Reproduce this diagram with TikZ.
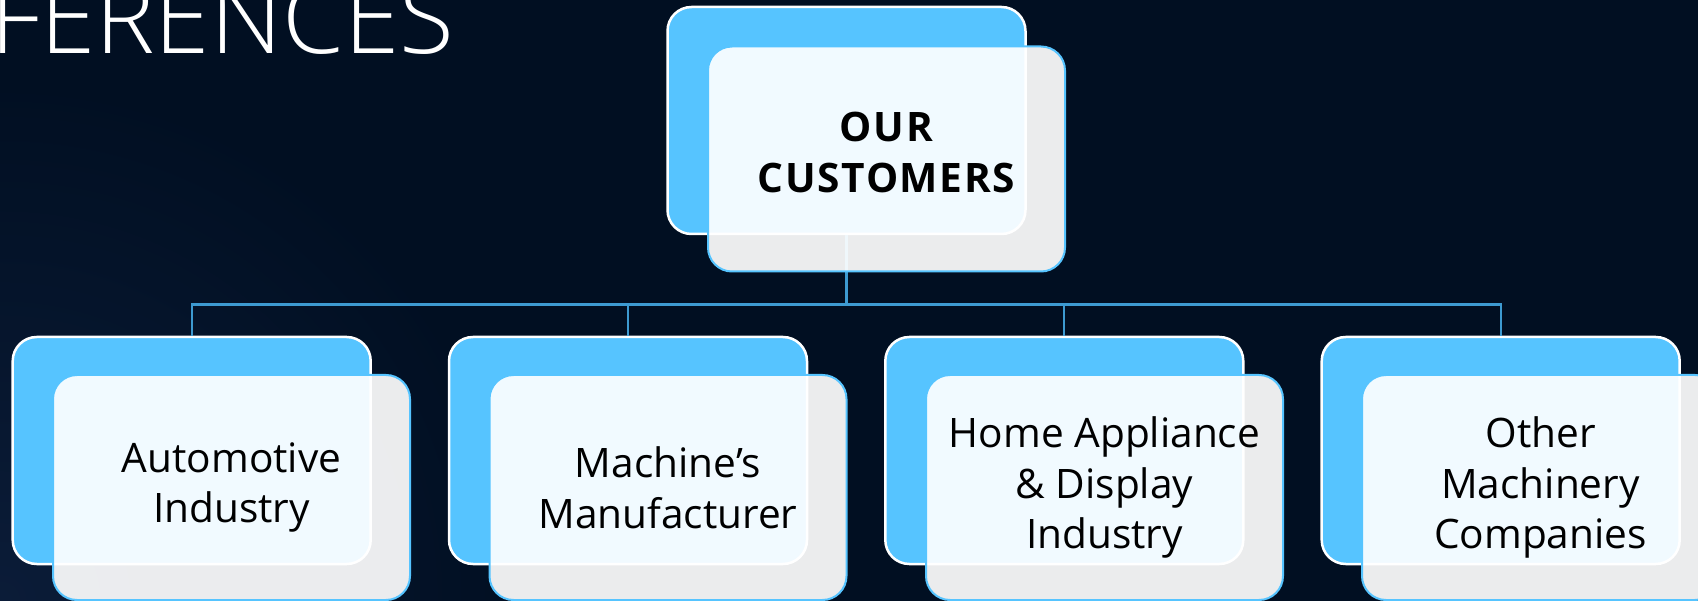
\documentclass[tikz,border=0pt]{standalone}
\usepackage{fontspec}
\setmainfont{Open Sans}
\IfFontExistsTF{Open Sans Light}
  {\newfontfamily\titlefont{Open Sans Light}}
  {\newfontfamily\titlefont{Open Sans}}
\definecolor{bgc}{HTML}{010F22}
\definecolor{bgglow}{HTML}{0B1C38}
\definecolor{skyb}{HTML}{56C4FF}
\definecolor{linkc}{HTML}{3D9AD1}
\tikzset{
  backbox/.style={draw=white, line width=2.5pt, fill=skyb, rounded corners=24pt,
    minimum width=358pt, minimum height=227pt, inner sep=0pt},
  frontbox/.style={draw=skyb, line width=2pt, fill=white, fill opacity=0.92, text opacity=1,
    rounded corners=24pt, minimum width=357pt, minimum height=225pt, inner sep=0pt,
    align=center, text=black, font=\fontsize{40.6}{50.7}\selectfont},
  toptext/.style={inner sep=0pt, align=center, text=black,
    font=\fontsize{40.6}{51}\selectfont\bfseries\addfontfeature{LetterSpace=4}},
  titletext/.style={inner sep=0pt, text=white, font=\fontsize{100}{100}\titlefont},
  link/.style={draw=linkc, line width=2.2pt}
}
\begin{document}
\begin{tikzpicture}[x=1pt,y=-1pt]
\useasboundingbox (0,0) rectangle (1698,601);
\clip (0,0) rectangle (1698,601);
\fill[bgc] (0,0) rectangle (1698,601);
\shade[inner color=bgglow, outer color=bgc] (0,601) circle (520);

% title
\node[titletext, anchor=base west] (title) at (-10,54) {FERENCES};

% back boxes
\node[backbox] (tb) at (846.5,120.5) {};
\node[backbox] (b1) at (191.7,450.5) {};
\node[backbox] (b2) at (628,450.5) {};
\node[backbox] (b3) at (1064.3,450.5) {};
\node[backbox] (b4) at (1500.7,450.5) {};

% connectors
\coordinate (bus) at (846.5,304.5);
\foreach \b in {b1,b2,b3,b4}{
  \draw[link] (tb.south) -- (tb.south |- bus) -| (\b.north);
}

% front boxes
\node[frontbox] (tf) at (886.5,159) {};
\node[toptext] (tft) at ([yshift=6.6pt]tf.center) {OUR\\CUSTOMERS};
\node[frontbox] (f1) at (231.5,487.5) {Automotive\\Industry};
\node[frontbox] (f2) at (668,487.5) {Machine’s\\Manufacturer};
\node[frontbox] (f3) at (1104.5,487.5) {Home Appliance\\\&~Display\\Industry};
\node[frontbox] (f4) at (1540.5,487.5) {Other\\Machinery\\Companies};
\end{tikzpicture}
\end{document}
